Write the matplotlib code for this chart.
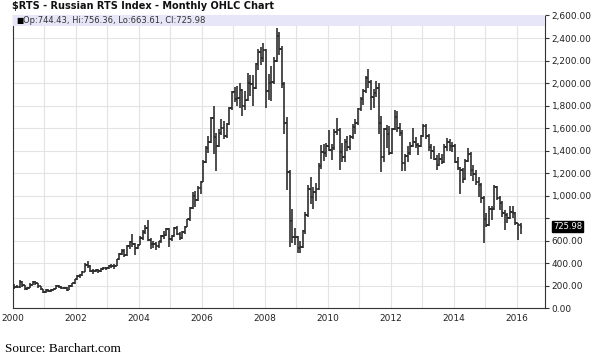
import matplotlib
matplotlib.use("Agg")
import matplotlib.pyplot as plt
import numpy as np
import pandas as pd

# Monthly OHLC, Jan 2000 .. Feb 2016
opens = [
    178, 193, 189, 237, 205, 170, 183, 211, 237, 225, 199, 169,
    143, 167, 157, 167, 172, 200, 190, 181, 185, 168, 199, 224,
    260, 287, 293, 328, 388, 375, 336, 330, 345, 332, 349, 360,
    359, 374, 377, 378, 435, 483, 513, 476, 555, 590, 575, 536,
    567, 625, 681, 717, 610, 570, 575, 555, 595, 647, 653, 706,
    614, 642, 718, 665, 626, 680, 727, 790, 890, 1000, 960, 1070,
    1125, 1300, 1420, 1480, 1690, 1520, 1440, 1560, 1600, 1530, 1640, 1780,
    1922, 1860, 1870, 1935, 1800, 1850, 2000, 1990, 1960, 2170, 2280, 2220,
    2290, 1930, 2000, 2010, 2200, 2420, 2300, 1990, 1650, 1211, 773, 630,
    632, 537, 545, 690, 830, 1060, 990, 1030, 1060, 1260, 1390, 1380,
    1444, 1410, 1420, 1570, 1580, 1390, 1340, 1475, 1430, 1520, 1610, 1650,
    1770, 1860, 1930, 2045, 2010, 1880, 1910, 1960, 1650, 1340, 1590, 1550,
    1380, 1590, 1700, 1600, 1560, 1290, 1350, 1380, 1440, 1480, 1450, 1440,
    1527, 1620, 1530, 1430, 1400, 1330, 1270, 1330, 1300, 1430, 1480, 1440,
    1443, 1300, 1250, 1225, 1150, 1310, 1370, 1230, 1190, 1120, 1100, 980,
    790, 740, 880, 880, 1080, 980, 940, 850, 830, 800, 860, 850,
    757, 744.43,
]
highs = [
    215, 205, 253, 245, 210, 195, 222, 247, 242, 228, 203, 172,
    175, 171, 172, 180, 206, 212, 196, 193, 189, 206, 229, 266,
    296, 302, 336, 402, 425, 386, 350, 352, 350, 356, 368, 372,
    385, 392, 395, 440, 490, 530, 525, 560, 600, 662, 582, 575,
    640, 700, 740, 787, 625, 600, 590, 600, 655, 692, 715, 712,
    655, 725, 730, 680, 690, 730, 795, 900, 1030, 1040, 1090, 1135,
    1320, 1440, 1530, 1700, 1794, 1560, 1590, 1680, 1660, 1650, 1785, 1930,
    1965, 1975, 2004, 1950, 1927, 2093, 2076, 2076, 2180, 2300, 2316, 2360,
    2300, 2080, 2150, 2230, 2491, 2450, 2330, 2010, 1700, 1230, 880, 715,
    640, 600, 700, 860, 1100, 1171, 1080, 1110, 1290, 1450, 1460, 1470,
    1587, 1460, 1590, 1690, 1600, 1470, 1500, 1530, 1540, 1640, 1680, 1780,
    1880, 1950, 2060, 2123, 2030, 1950, 2020, 2000, 1705, 1600, 1630, 1620,
    1600, 1760, 1750, 1650, 1580, 1370, 1440, 1480, 1600, 1520, 1470, 1540,
    1640, 1640, 1550, 1460, 1440, 1360, 1380, 1370, 1460, 1516, 1500, 1480,
    1460, 1340, 1255, 1250, 1330, 1427, 1390, 1270, 1230, 1170, 1110, 1000,
    846, 905, 905, 1098, 1090, 994, 950, 876, 849, 905, 905, 860,
    762, 756.36,
]
lows = [
    172, 180, 186, 195, 160, 162, 178, 205, 212, 186, 160, 135,
    140, 150, 150, 160, 170, 185, 175, 177, 155, 165, 195, 220,
    255, 270, 290, 325, 360, 325, 308, 320, 318, 328, 340, 345,
    350, 362, 352, 375, 430, 478, 460, 470, 530, 545, 475, 525,
    560, 610, 660, 600, 525, 540, 520, 535, 585, 620, 640, 549,
    600, 635, 650, 610, 615, 665, 720, 780, 880, 900, 950, 1020,
    1120, 1290, 1380, 1470, 1370, 1216, 1430, 1540, 1500, 1515, 1630, 1765,
    1830, 1800, 1782, 1705, 1760, 1840, 1883, 1800, 1950, 2120, 2160, 2190,
    1780, 1853, 1840, 1990, 2190, 2250, 1960, 1550, 1050, 549, 580, 560,
    493, 495, 540, 660, 815, 930, 880, 950, 1050, 1240, 1310, 1340,
    1400, 1320, 1410, 1540, 1231, 1300, 1300, 1400, 1410, 1500, 1550, 1630,
    1750, 1810, 1910, 1960, 1764, 1780, 1880, 1550, 1210, 1300, 1420, 1360,
    1370, 1580, 1570, 1530, 1216, 1220, 1300, 1360, 1430, 1420, 1360, 1435,
    1520, 1500, 1400, 1330, 1320, 1230, 1260, 1280, 1290, 1400, 1400, 1390,
    1290, 1230, 1015, 1110, 1140, 1300, 1180, 1130, 1100, 993, 940, 578,
    727, 730, 787, 870, 960, 876, 816, 698, 760, 790, 800, 740,
    607, 663.61,
]
closes = [
    193, 189, 237, 205, 170, 183, 211, 237, 225, 199, 169, 143,
    167, 157, 167, 172, 200, 190, 181, 185, 168, 199, 224, 260,
    287, 293, 328, 388, 375, 336, 330, 345, 332, 349, 360, 359,
    374, 377, 378, 435, 483, 513, 476, 555, 590, 575, 536, 567,
    625, 681, 717, 610, 570, 575, 555, 595, 647, 653, 706, 614,
    642, 718, 665, 626, 680, 727, 790, 890, 1000, 960, 1070, 1125,
    1300, 1420, 1480, 1690, 1520, 1440, 1560, 1600, 1530, 1640, 1780, 1922,
    1860, 1870, 1935, 1800, 1850, 2000, 1990, 1960, 2170, 2280, 2220, 2290,
    1930, 2000, 2010, 2200, 2420, 2300, 1990, 1650, 1211, 773, 630, 632,
    537, 545, 690, 830, 1060, 990, 1030, 1060, 1260, 1390, 1380, 1444,
    1410, 1420, 1570, 1580, 1390, 1340, 1475, 1430, 1520, 1610, 1650, 1770,
    1860, 1930, 2045, 2010, 1880, 1910, 1960, 1650, 1340, 1590, 1550, 1380,
    1590, 1700, 1600, 1560, 1290, 1350, 1380, 1440, 1480, 1450, 1440, 1527,
    1620, 1530, 1430, 1400, 1330, 1270, 1330, 1300, 1430, 1480, 1440, 1443,
    1300, 1250, 1225, 1150, 1310, 1370, 1230, 1190, 1120, 1100, 980, 790,
    740, 880, 880, 1080, 980, 940, 850, 830, 800, 860, 850, 757,
    744.43, 725.98,
]

year_ticks = list(range(2000, 2017, 2))
price_ticks = list(range(0, 2601, 200))

dates = pd.date_range("2000-01-01", periods=len(closes), freq="MS")
x = dates.year + (dates.month - 0.5) / 12.0
o, h, l, c = (np.asarray(a, float) for a in (opens, highs, lows, closes))

fig = plt.figure(figsize=(5.95, 3.64), dpi=100)
ax = fig.add_axes([0.0218, 0.1525, 0.894, 0.805])

bar_col = "#262626"
tick_w = 0.05
ax.vlines(x, l, h, color=bar_col, lw=1.15, zorder=3)
ax.hlines(o, x - tick_w, x, color=bar_col, lw=1.1, zorder=3)
ax.hlines(c, x, x + tick_w, color=bar_col, lw=1.1, zorder=3)

ax.set_xlim(2000, 2016.9)
ax.set_ylim(0, 2600)

# grid: every year vertically, every 200 horizontally
ax.set_xticks(year_ticks)
ax.set_xticks(range(2000, 2017), minor=True)
ax.set_xticklabels([str(y) for y in year_ticks], fontsize=6.5, color="#222")
ax.tick_params(axis="x", which="both", length=0, pad=4)
ax.grid(axis="x", which="both", color="#e3e3e3", lw=0.8)
ax.grid(axis="y", color="#e3e3e3", lw=0.8)
ax.set_axisbelow(True)

last = c[-1]
ax.yaxis.tick_right()
ax.set_yticks(price_ticks)
ax.set_yticklabels(["" if abs(t - last) < 100 else f"{t:,.2f}" for t in price_ticks],
                   fontsize=6.5, color="#222")
ax.tick_params(axis="y", length=3, width=0.8, color="#333", pad=2)

for side in ("left", "bottom", "right"):
    ax.spines[side].set_color("#333")
    ax.spines[side].set_linewidth(0.8)
ax.spines["top"].set_color("#c8c8d8")
ax.spines["top"].set_linewidth(0.6)

# legend strip along the top of the plot
ax.axhspan(2510, 2600, color="#e6e6f8", zorder=4, lw=0)
ax.text(0.006, 0.982, "\u25a0", transform=ax.transAxes, fontsize=5.5,
        va="center", ha="left", zorder=5)
ax.text(0.019, 0.982,
        f"Op:{o[-1]:.2f}, Hi:{h[-1]:.2f}, Lo:{l[-1]:.2f}, Cl:{c[-1]:.2f}",
        transform=ax.transAxes, fontsize=6, va="center", ha="left",
        color="#333", zorder=5)

# last-price marker on the right axis
ax.annotate(f"{last:.2f}", xy=(1, last), xycoords=("axes fraction", "data"),
            xytext=(6, 0), textcoords="offset points", fontsize=6,
            color="white", va="center", ha="left",
            bbox=dict(boxstyle="square,pad=0.1", fc="black", ec="black"))

fig.text(0.02, 0.983, "$RTS - Russian RTS Index - Monthly OHLC Chart",
         fontsize=7, fontweight="bold", va="center", ha="left", color="#111")
fig.text(0.008, 0.04, "Source: Barchart.com", family="Liberation Serif",
         fontsize=9.5, va="center", ha="left")

fig.savefig("out.png", dpi=100)
